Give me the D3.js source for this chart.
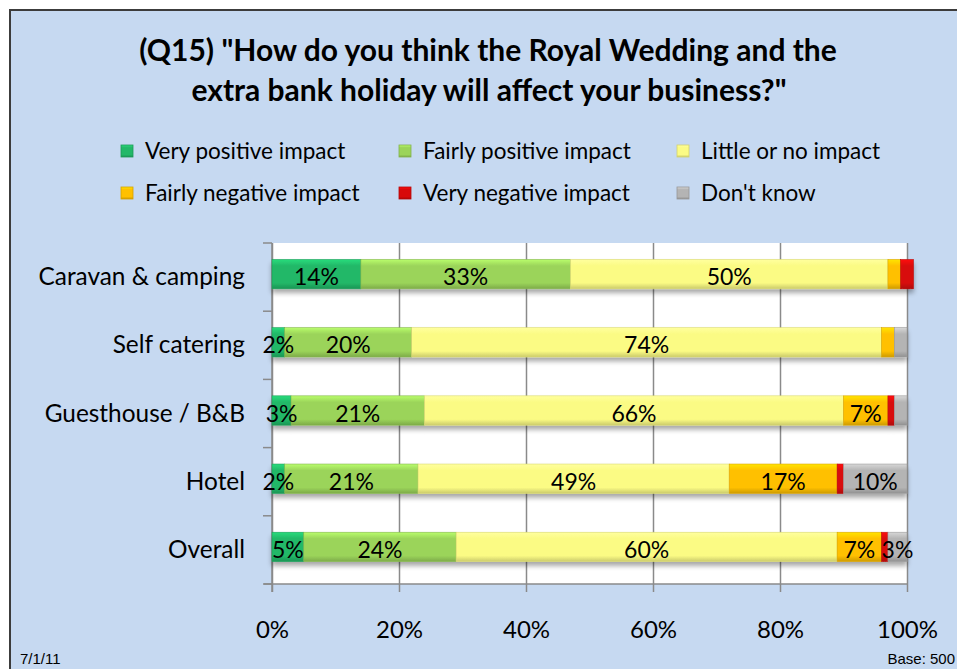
<!DOCTYPE html>
<html>
<head>
<meta charset="utf-8">
<script src="https://cdn.jsdelivr.net/npm/d3@7"></script>
<style>
  body { margin: 0; background: #fff; }
  text { font-family: Lato, "Open Sans", sans-serif; fill: #000; }
</style>
</head>
<body>
<script>
const w = 957;
const h = 669;

// data (percent)
const categories = ["Caravan & camping", "Self catering", "Guesthouse / B&B", "Hotel", "Overall"];
const seriesNames = ["Very positive impact", "Fairly positive impact", "Little or no impact",
                     "Fairly negative impact", "Very negative impact", "Don't know"];
const veryPositive   = [14, 2, 3, 2, 5];
const fairlyPositive = [33, 20, 21, 21, 24];
const littleOrNone   = [50, 74, 66, 49, 60];
const fairlyNegative = [2, 2, 7, 17, 7];
const veryNegative   = [2, 0, 1, 1, 1];
const dontKnow       = [0, 2, 2, 10, 3];
const xTicks = [0, 20, 40, 60, 80, 100];

const seriesValues = [veryPositive, fairlyPositive, littleOrNone, fairlyNegative, veryNegative, dontKnow];
const colors = ["#22b868", "#9bd45a", "#fbfb84", "#ffc000", "#d80a0a", "#b4b4b4"];

let svg = d3.select("body").append("svg")
  .attr("width", w)
  .attr("height", h);

// gradients for the bevelled bar look
let defs = svg.append("defs");
colors.forEach((c, i) => {
  let g = defs.append("linearGradient")
    .attr("id", "grad" + i)
    .attr("x1", 0).attr("y1", 0).attr("x2", 0).attr("y2", 1);
  g.append("stop").attr("offset", "0%").attr("stop-color", d3.color(c).brighter(0.5));
  g.append("stop").attr("offset", "22%").attr("stop-color", c);
  g.append("stop").attr("offset", "80%").attr("stop-color", c);
  g.append("stop").attr("offset", "100%").attr("stop-color", d3.color(c).darker(0.6));
});
let shadow = defs.append("filter").attr("id", "shadow")
  .attr("x", "-5%").attr("y", "-20%").attr("width", "110%").attr("height", "160%");
shadow.append("feGaussianBlur").attr("in", "SourceAlpha").attr("stdDeviation", 2.5);
shadow.append("feOffset").attr("dx", 0).attr("dy", 4).attr("result", "off");
shadow.append("feComponentTransfer").append("feFuncA").attr("type", "linear").attr("slope", 0.35);
let merge = shadow.append("feMerge");
merge.append("feMergeNode");
merge.append("feMergeNode").attr("in", "SourceGraphic");

// chart background
svg.append("rect")
  .attr("x", 10).attr("y", 10)
  .attr("width", w + 20).attr("height", h + 20)
  .attr("fill", "#c6d9f1")
  .attr("stroke", "#3c3c3c")
  .attr("stroke-width", 2);

// title
svg.append("text")
  .attr("x", 488).attr("y", 61)
  .attr("text-anchor", "middle")
  .style("font-size", "30px").style("font-weight", "bold")
  .text('(Q15) "How do you think the Royal Wedding and the');
svg.append("text")
  .attr("x", 489).attr("y", 101)
  .attr("text-anchor", "middle")
  .style("font-size", "30px").style("font-weight", "bold")
  .text('extra bank holiday will affect your business?"');

// legend
let legend = svg.append("g");
seriesNames.forEach((name, i) => {
  let lx = 121 + (i % 3) * 278;
  let ly = 151 + Math.floor(i / 3) * 42;
  legend.append("rect")
    .attr("x", lx).attr("y", ly - 6)
    .attr("width", 12).attr("height", 12)
    .attr("fill", "url(#grad" + i + ")")
    .attr("stroke", d3.color(colors[i]).darker(0.5))
    .attr("stroke-width", 0.8);
  legend.append("text")
    .attr("x", lx + 24).attr("y", ly + 8)
    .style("font-size", "22.5px")
    .text(name);
});

// scales
let xScale = d3.scaleLinear().domain([0, 100]).range([272, 907]);
let yScale = d3.scaleBand().domain(categories).range([243, 584]).paddingInner(0.57).paddingOuter(0.285);

// plot area
svg.append("rect")
  .attr("x", xScale(0)).attr("y", 243)
  .attr("width", xScale(100) - xScale(0)).attr("height", 584 - 243)
  .attr("fill", "#fff");

// x axis with gridlines
let xAxis = d3.axisBottom(xScale)
  .tickValues(xTicks)
  .tickSize(584 - 243 + 8)
  .tickPadding(29)
  .tickFormat(d => d + "%");
let xg = svg.append("g")
  .attr("transform", "translate(0,243)")
  .call(xAxis);
xg.select(".domain").remove();
xg.selectAll(".tick line").attr("stroke", "#8a8a8a").attr("stroke-width", 1.5);
xg.selectAll(".tick text").style("font-size", "24px").attr("fill", "#000");

svg.append("line")
  .attr("x1", 264).attr("x2", xScale(100))
  .attr("y1", 584).attr("y2", 584)
  .attr("stroke", "#8a8a8a").attr("stroke-width", 1.5);

// y axis: line + ticks between categories
let yg = svg.append("g");
yg.append("line")
  .attr("x1", xScale(0)).attr("x2", xScale(0))
  .attr("y1", 243).attr("y2", 592)
  .attr("stroke", "#8a8a8a").attr("stroke-width", 1.5);
d3.range(categories.length + 1).forEach(i => {
  let yy = 243 + i * (584 - 243) / categories.length;
  yg.append("line")
    .attr("x1", 263).attr("x2", xScale(0))
    .attr("y1", yy).attr("y2", yy)
    .attr("stroke", "#8a8a8a").attr("stroke-width", 1.5);
});
categories.forEach(c => {
  yg.append("text")
    .attr("x", 245)
    .attr("y", yScale(c) + yScale.bandwidth() / 2 + 8)
    .attr("text-anchor", "end")
    .style("font-size", "24.4px")
    .text(c);
});

// stacked bars
let stackData = categories.map((c, i) => {
  let row = { cat: c };
  seriesNames.forEach((s, j) => row[s] = seriesValues[j][i]);
  return row;
});
let stacked = d3.stack().keys(seriesNames)(stackData);

let bars = svg.append("g").attr("filter", "url(#shadow)");
stacked.forEach((layer, j) => {
  bars.selectAll(".s" + j)
    .data(layer)
    .enter()
    .append("rect")
    .attr("class", "s" + j)
    .attr("x", d => xScale(d[0]))
    .attr("y", d => yScale(d.data.cat) - 3)
    .attr("width", d => xScale(d[1]) - xScale(d[0]))
    .attr("height", yScale.bandwidth())
    .attr("fill", "url(#grad" + j + ")")
    .attr("stroke", d3.color(colors[j]).darker(0.4))
    .attr("stroke-width", 0.6);
});

// data labels
let labels = svg.append("g");
stacked.forEach((layer, j) => {
  labels.selectAll(".l" + j)
    .data(layer.filter(d => {
      let v = d[1] - d[0];
      if (j === 4) return false;
      return j === 0 ? v > 0 : v >= 3;
    }))
    .enter()
    .append("text")
    .attr("x", d => (xScale(d[0]) + xScale(d[1])) / 2)
    .attr("y", d => yScale(d.data.cat) - 3 + yScale.bandwidth() / 2 + 11)
    .attr("text-anchor", "middle")
    .style("font-size", "23px")
    .text(d => (d[1] - d[0]) + "%");
});

// footer
svg.append("text")
  .attr("x", 20).attr("y", 664)
  .style("font-family", "Liberation Sans, Arial, sans-serif")
  .style("font-size", "15px")
  .text("7/1/11");
svg.append("text")
  .attr("x", 955).attr("y", 664)
  .attr("text-anchor", "end")
  .style("font-family", "Liberation Sans, Arial, sans-serif")
  .style("font-size", "15px")
  .text("Base: 500");
</script>
</body>
</html>
